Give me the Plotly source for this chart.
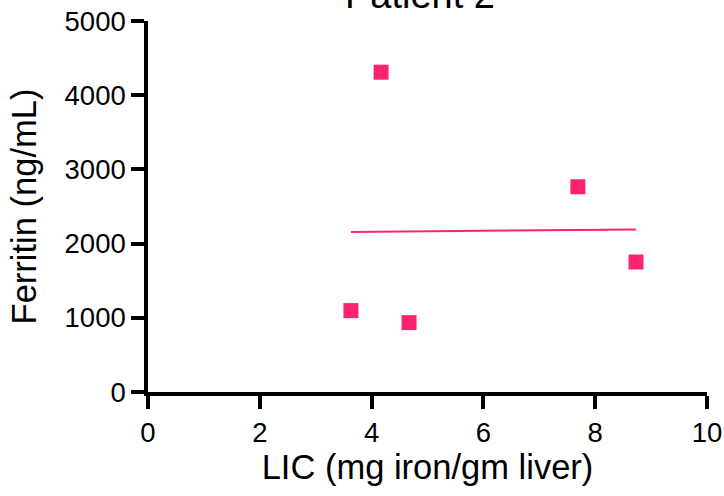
import numpy as np
import plotly.graph_objects as go

# Data
lic = [3.63, 4.17, 4.67, 7.69, 8.73]
ferritin = [1097, 4310, 935, 2766, 1752]

x_ticks = [0, 2, 4, 6, 8, 10]
y_ticks = [0, 1000, 2000, 3000, 4000, 5000]

title_text = "Patient 2"
x_title = "LIC (mg iron/gm liver)"
y_title = "Ferritin (ng/mL)"

pink = "#FF2271"
font_family = "Liberation Sans, Arial, sans-serif"

# Linear regression fit across the data range
slope, intercept = np.polyfit(lic, ferritin, 1)
fit_x = [min(lic), max(lic)]
fit_y = [slope * v + intercept for v in fit_x]

fig = go.Figure()
fig.add_trace(go.Scatter(
    x=fit_x, y=fit_y, mode="lines",
    line=dict(color=pink, width=2),
    showlegend=False, hoverinfo="skip",
))
fig.add_trace(go.Scatter(
    x=lic, y=ferritin, mode="markers",
    marker=dict(symbol="square", size=15, color=pink, line=dict(width=0)),
    showlegend=False,
))

axis_common = dict(
    showline=True, linecolor="black", linewidth=3.5,
    ticks="outside", ticklen=13, tickwidth=3.5, tickcolor="black",
    showgrid=False, zeroline=False,
    tickfont=dict(family=font_family, size=27.5, color="black"),
    title_font=dict(family=font_family, size=34.5, color="black"),
)

fig.update_xaxes(range=[0, 10], tickvals=x_ticks, ticktext=[str(v) for v in x_ticks],
                 title_text=x_title, title_standoff=1, **axis_common)
fig.update_yaxes(range=[0, 5000], tickvals=y_ticks, ticktext=[str(v) for v in y_ticks],
                 title_text=y_title, title_standoff=18, **axis_common)

fig.add_annotation(
    text=title_text, xref="paper", yref="paper", x=0.487, y=1,
    xanchor="center", yanchor="bottom", yshift=3, showarrow=False,
    font=dict(family=font_family, size=38, color="black"),
)

fig.update_layout(
    width=724, height=496,
    margin=dict(l=147.5, r=17, t=20.7, b=103.8, autoexpand=False),
    plot_bgcolor="white", paper_bgcolor="white",
    font=dict(family=font_family, color="black"),
)

fig.write_html(
    "out.html",
    config={"displayModeBar": False},
    post_script="document.body.style.margin='0';document.body.style.overflow='hidden';",
)
